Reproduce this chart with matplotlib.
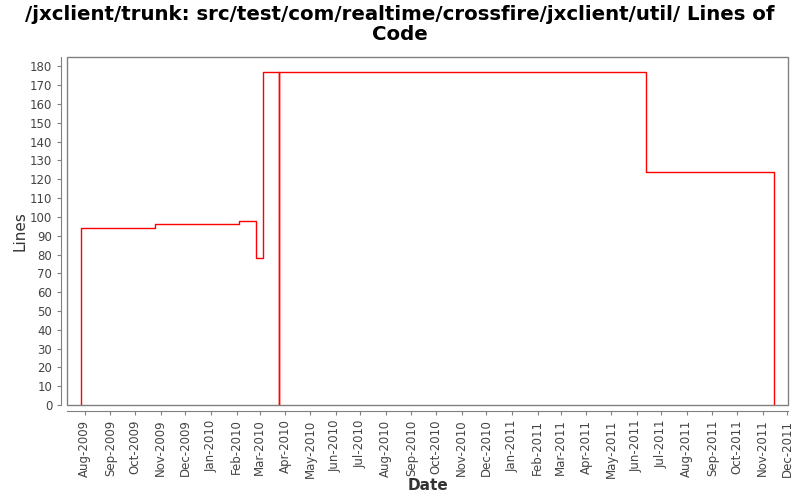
import datetime as dt
import matplotlib
matplotlib.use("Agg")
import matplotlib.pyplot as plt
import matplotlib.dates as mdates
from matplotlib.patches import Rectangle

# commit dates and line counts
dates = [
    dt.datetime(2009, 7, 27), dt.datetime(2009, 7, 27),
    dt.datetime(2009, 10, 25), dt.datetime(2010, 2, 4),
    dt.datetime(2010, 2, 25), dt.datetime(2010, 3, 5),
    dt.datetime(2010, 3, 25), dt.datetime(2010, 3, 25),
    dt.datetime(2011, 6, 13), dt.datetime(2011, 11, 15),
]
lines = [0, 94, 96, 98, 78, 177, 0, 177, 124, 0]

title = "/jxclient/trunk: src/test/com/realtime/crossfire/jxclient/util/ Lines of\nCode"

grey = "#808080"
txt = "#444444"

fig = plt.figure(figsize=(8, 5), dpi=100)
ax = fig.add_axes([0.0834, 0.19, 0.902, 0.696])

ax.plot(dates, lines, drawstyle="steps-post", color="red", lw=1.0)

ax.set_xlim(dt.datetime(2009, 7, 10), dt.datetime(2011, 12, 2))
ax.set_ylim(0, 185)
ax.set_yticks(range(0, 181, 10))

ax.xaxis.set_major_locator(mdates.MonthLocator())
ax.xaxis.set_major_formatter(mdates.DateFormatter("%b-%Y"))
ax.tick_params(axis="x", labelrotation=90)

# plot frame plus offset axis lines, like the original
for s in ["top", "right"]:
    ax.spines[s].set_visible(False)
for s in ["left", "bottom"]:
    ax.spines[s].set_position(("outward", 4))
    ax.spines[s].set_color(grey)
ax.add_patch(Rectangle((0, 0), 1, 1, transform=ax.transAxes, fill=False,
                       edgecolor=grey, lw=1, clip_on=False))

ax.tick_params(axis="both", colors=grey, labelcolor=txt, labelsize=8.5,
               length=3, width=0.8)

ax.set_ylabel("Lines", fontsize=11, color="#333333", labelpad=1.5)
ax.set_xlabel("Date", fontsize=11, color="#333333", fontweight="bold", labelpad=0)
fig.suptitle(title, fontsize=14.2, fontweight="bold", y=0.99, linespacing=1.1)

fig.savefig("out.png", dpi=100)
